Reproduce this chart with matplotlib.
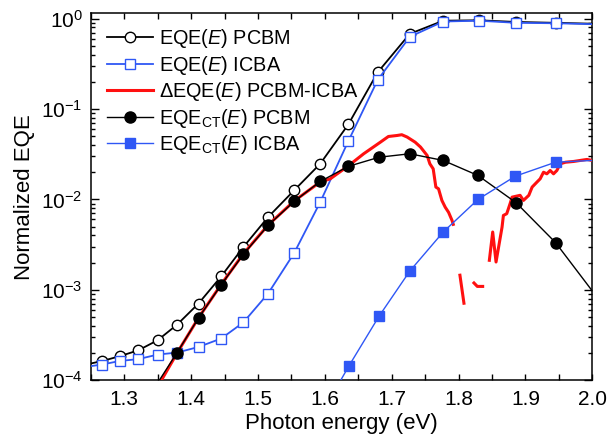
# eqe_ct_compare.py - normalized EQE spectra and CT contributions, PCBM vs ICBA

import numpy as np
import matplotlib
matplotlib.use("Agg")
import matplotlib.pyplot as plt
from matplotlib.lines import Line2D
from matplotlib.ticker import LogLocator, MultipleLocator, NullFormatter

plt.rcParams['font.family'] = ['Liberation Sans', 'DejaVu Sans']
plt.rcParams['mathtext.fontset'] = 'custom'
plt.rcParams['mathtext.rm'] = 'Liberation Sans'
plt.rcParams['mathtext.it'] = 'Liberation Sans:italic'
plt.rcParams['mathtext.bf'] = 'Liberation Sans:bold'

BLUE = '#2f57f5'
RED = '#ff1010'

# EQE(E) PCBM: first/last entries are the curve ends at the frame, the rest carry markers
eqe_pcbm_E = [1.250, 1.267, 1.293, 1.321, 1.350, 1.379, 1.411, 1.445, 1.478, 1.515,
              1.554, 1.593, 1.635, 1.679, 1.727, 1.777, 1.830, 1.886, 1.945, 2.000]
eqe_pcbm = [1.53e-4, 1.63e-4, 1.84e-4, 2.14e-4, 2.77e-4, 4.12e-4, 7.05e-4, 1.41e-3, 2.97e-3, 6.37e-3,
            1.26e-2, 2.48e-2, 6.75e-2, 0.255, 0.68, 0.95, 0.96, 0.92, 0.90, 0.88]

# EQE(E) ICBA
eqe_icba_E = eqe_pcbm_E
eqe_icba = [1.43e-4, 1.49e-4, 1.63e-4, 1.71e-4, 1.92e-4, 2.02e-4, 2.33e-4, 2.89e-4, 4.35e-4, 9.08e-4,
            2.55e-3, 9.33e-3, 4.41e-2, 0.21, 0.63, 0.93, 0.95, 0.90, 0.89, 0.87]

# EQE_CT(E) PCBM (fit curve)
ct_pcbm_E = [1.345, 1.379, 1.411, 1.445, 1.478, 1.515, 1.554, 1.593, 1.635, 1.681,
             1.727, 1.777, 1.829, 1.886, 1.945, 2.000]
ct_pcbm = [8.2e-5, 2.02e-4, 4.88e-4, 1.14e-3, 2.47e-3, 5.16e-3, 9.5e-3, 1.58e-2, 2.32e-2, 2.93e-2,
           3.2e-2, 2.7e-2, 1.84e-2, 9.2e-3, 3.33e-3, 9.7e-4]

# EQE_CT(E) ICBA (fit curve)
ct_icba_E = [1.615, 1.636, 1.681, 1.727, 1.777, 1.829, 1.885, 1.945, 2.000]
ct_icba = [7.7e-5, 1.44e-4, 5.1e-4, 1.61e-3, 4.36e-3, 1.0e-2, 1.81e-2, 2.58e-2, 2.7e-2]

# dEQE(E) PCBM-ICBA, measured difference; NaN marks the gaps where it goes negative
deqe_E = [1.348, 1.379, 1.411, 1.445, 1.478, 1.515, 1.554, 1.593, 1.608, 1.636,
          1.658, 1.683, 1.695, 1.708, 1.715, 1.723, 1.735, 1.743, 1.753, 1.757,
          1.762, 1.766, 1.770, 1.775, 1.780, 1.785, 1.790, 1.792, np.nan,
          1.802, 1.808, np.nan,
          1.823, 1.828, 1.836, np.nan,
          1.846, 1.851, 1.856, 1.865, 1.867, 1.872, 1.877, 1.880, 1.892, 1.897,
          1.905, 1.910, 1.917, 1.922, 1.927, 1.932, 1.937, 1.942, 1.947, 1.952,
          1.960, 1.972, 1.982, 1.992, 2.000]
deqe = [8.0e-5, 2.0e-4, 4.9e-4, 1.15e-3, 2.5e-3, 5.2e-3, 9.6e-3, 1.56e-2, 1.69e-2, 2.38e-2,
        3.2e-2, 4.3e-2, 4.97e-2, 5.1e-2, 5.2e-2, 4.9e-2, 4.3e-2, 3.8e-2, 3.06e-2, 2.48e-2,
        2.18e-2, 1.37e-2, 1.31e-2, 9.75e-3, 8.2e-3, 7.2e-3, 5.9e-3, 5.3e-3, np.nan,
        1.45e-3, 7.1e-4, np.nan,
        1.19e-3, 1.09e-3, 1.09e-3, np.nan,
        2.12e-3, 4.36e-3, 2.03e-3, 4.94e-3, 6.65e-3, 6.95e-3, 8.97e-3, 1.06e-2, 1.11e-2, 9.75e-3,
        1.11e-2, 1.37e-2, 1.55e-2, 1.69e-2, 2.0e-2, 1.92e-2, 2.09e-2, 1.92e-2, 2.09e-2, 2.48e-2,
        2.58e-2, 2.63e-2, 2.7e-2, 2.77e-2, 2.7e-2]

labels = [r'EQE($\mathit{E}$) PCBM',
          r'EQE($\mathit{E}$) ICBA',
          '\u0394' + r'EQE($\mathit{E}$) PCBM-ICBA',
          r'EQE$_{\mathrm{CT}}$($\mathit{E}$) PCBM',
          r'EQE$_{\mathrm{CT}}$($\mathit{E}$) ICBA']


def plot_eqe() -> None:
    fig = plt.figure(figsize=(6.1, 4.4), dpi=100)
    ax = fig.add_axes([0.149, 0.136, 0.822, 0.834])

    inner = slice(1, -1)
    ax.plot(eqe_pcbm_E, eqe_pcbm, color='black', lw=1.3, marker='o', ms=7.5,
            mfc='white', mec='black', mew=1.0, markevery=inner, zorder=3)
    ax.plot(eqe_icba_E, eqe_icba, color=BLUE, lw=1.3, marker='s', ms=6.5,
            mfc='white', mec=BLUE, mew=1.0, markevery=inner, zorder=4)
    ax.plot(deqe_E, deqe, color=RED, lw=2.2, solid_joinstyle='round', zorder=5)
    ax.plot(ct_pcbm_E, ct_pcbm, color='black', lw=1.0, marker='o', ms=8,
            mfc='black', mec='black', markevery=slice(1, -1), zorder=6)
    ax.plot(ct_icba_E, ct_icba, color=BLUE, lw=1.0, marker='s', ms=6.5,
            mfc=BLUE, mec=BLUE, markevery=slice(1, -1), zorder=6)

    ax.set_yscale('log')
    ax.set_xlim(1.25, 2.0)
    ax.set_ylim(1e-4, 1.15)
    ax.xaxis.set_major_locator(MultipleLocator(0.1))
    ax.xaxis.set_minor_locator(MultipleLocator(0.05))
    ax.xaxis.set_major_formatter(plt.FormatStrFormatter('%.1f'))
    ax.yaxis.set_major_locator(LogLocator(base=10, numticks=10))
    ax.yaxis.set_minor_locator(LogLocator(base=10, subs=np.arange(2, 10), numticks=20))
    ax.yaxis.set_minor_formatter(NullFormatter())

    ax.tick_params(which='both', direction='in', top=True, right=True, width=1.0,
                   labelsize=15)
    ax.tick_params(axis='x', which='both', length=4, pad=7)
    ax.tick_params(axis='y', which='major', length=6, pad=6)
    ax.tick_params(axis='y', which='minor', length=3)
    for s in ax.spines.values():
        s.set_linewidth(1.1)

    ax.set_xlabel('Photon energy (eV)', fontsize=16, labelpad=3)
    ax.set_ylabel('Normalized EQE', fontsize=16, labelpad=4)

    handles = [
        Line2D([], [], color='black', lw=1.3, marker='o', ms=7.5, mfc='white', mec='black'),
        Line2D([], [], color=BLUE, lw=1.3, marker='s', ms=6.5, mfc='white', mec=BLUE),
        Line2D([], [], color=RED, lw=2.2),
        Line2D([], [], color='black', lw=1.0, marker='o', ms=8, mfc='black'),
        Line2D([], [], color=BLUE, lw=1.0, marker='s', ms=6.5, mfc=BLUE, mec=BLUE),
    ]
    ax.legend(handles, labels, loc='upper left', frameon=False, fontsize=14.3,
              handlelength=2.3, handletextpad=0.3, labelspacing=0.18,
              borderaxespad=0.2, bbox_to_anchor=(0.009, 0.995), numpoints=1)

    fig.savefig('out.png', dpi=100)


if __name__ == "__main__":
    plot_eqe()
